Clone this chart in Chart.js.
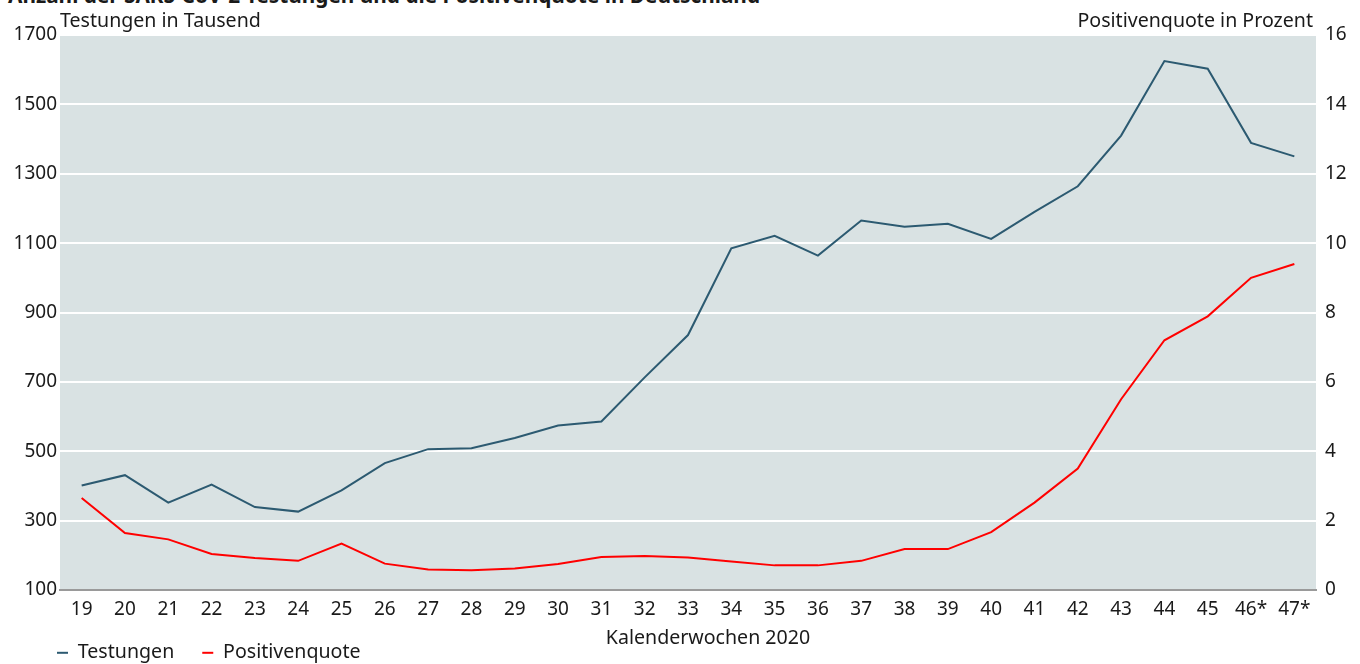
<!DOCTYPE html>
<html>
<head>
<meta charset="utf-8">
<script src="https://cdn.jsdelivr.net/npm/chart.js@4/dist/chart.umd.min.js"></script>
<style>
  html, body { margin: 0; padding: 0; background: #fff; }
  #wrap { position: relative; width: 1360px; height: 664px; overflow: hidden; }
  #title { position: absolute; left: 8px; top: -19px; font: bold 20.8px "Noto Sans", sans-serif; color: #1a1a1a; white-space: nowrap; }
  canvas { position: absolute; left: 0; top: 0; }
</style>
</head>
<body>
<div id="wrap">
  <div id="title">Anzahl der SARS-CoV-2-Testungen und die Positivenquote in Deutschland</div>
  <canvas id="chart" width="1360" height="664"></canvas>
</div>
<script>
// Kalenderwochen
const weeks = ["19", "20", "21", "22", "23", "24", "25", "26", "27", "28", "29", "30", "31", "32", "33",
  "34", "35", "36", "37", "38", "39", "40", "41", "42", "43", "44", "45", "46*", "47*"];

// Testungen in Tausend (linke Achse)
const testungen = [401, 431, 352, 404, 339, 326, 387, 466, 506, 509, 538, 574, 586, 713, 835,
  1085, 1121, 1064, 1165, 1147, 1156, 1112, 1190, 1264, 1410, 1625, 1603, 1389, 1350];

// Positivenquote in Prozent (rechte Achse)
const quote = [2.65, 1.64, 1.46, 1.04, 0.92, 0.84, 1.34, 0.76, 0.59, 0.57, 0.62, 0.75, 0.95, 0.98, 0.94,
  0.82, 0.71, 0.71, 0.84, 1.18, 1.18, 1.67, 2.52, 3.5, 5.5, 7.2, 7.89, 9.0, 9.4];

const leftTicks = [100, 300, 500, 700, 900, 1100, 1300, 1500, 1700];
const rightTicks = [0, 2, 4, 6, 8, 10, 12, 14, 16];

const FONT = "'Noto Sans', sans-serif";
const TXT = "#1a1a1a";

const plotBg = {
  id: "plotBg",
  afterLayout(chart) {
    // legend sits a bit higher and starts under the plot's left edge
    chart.legend.left += 29;
    chart.legend.top -= 5;
  },
  beforeDraw(chart) {
    const { ctx, chartArea: a } = chart;
    ctx.save();
    ctx.fillStyle = "#d9e2e3";
    ctx.fillRect(a.left, a.top, a.right - a.left, a.bottom - a.top);
    ctx.restore();
  },
  afterDraw(chart) {
    const { ctx, chartArea: a } = chart;
    ctx.save();
    ctx.font = "19.6px " + FONT;
    ctx.fillStyle = TXT;
    ctx.textBaseline = "alphabetic";
    ctx.textAlign = "left";
    ctx.fillText("Testungen in Tausend", a.left, 27);
    ctx.textAlign = "right";
    ctx.fillText("Positivenquote in Prozent", a.right - 3, 27);
    ctx.textAlign = "center";
    ctx.textBaseline = "middle";
    ctx.fillText("Kalenderwochen 2020", (a.left + a.right) / 2 + 20, 638);
    ctx.restore();
  }
};

new Chart(document.getElementById("chart"), {
  type: "line",
  data: {
    labels: weeks,
    datasets: [
      {
        label: "Testungen",
        data: testungen,
        yAxisID: "y",
        borderColor: "#2c5a71",
        backgroundColor: "#2c5a71",
        borderWidth: 2,
        pointRadius: 0,
        tension: 0
      },
      {
        label: "Positivenquote",
        data: quote,
        yAxisID: "y1",
        borderColor: "#ff0000",
        backgroundColor: "#ff0000",
        borderWidth: 2,
        pointRadius: 0,
        tension: 0
      }
    ]
  },
  options: {
    responsive: false,
    animation: false,
    layout: { padding: { left: 0, right: 0, top: 35, bottom: 0 } },
    plugins: {
      title: { display: false },
      tooltip: { enabled: false },
      legend: {
        position: "bottom",
        align: "start",
        maxHeight: 44,
        labels: {
          usePointStyle: true,
          pointStyle: "line",
          pointStyleWidth: 11,
          padding: 28,
          color: TXT,
          font: { family: FONT, size: 19.6 }
        }
      }
    },
    scales: {
      x: {
        offset: true,
        afterFit(scale) { scale.height = 30; },
        grid: { display: false, drawTicks: false },
        border: { color: "#9a9a9a", width: 2 },
        ticks: { color: TXT, font: { family: FONT, size: 19, lineHeight: 1 }, padding: 10.5, maxRotation: 0, autoSkip: false }
      },
      y: {
        position: "left",
        min: 100,
        max: 1700,
        afterBuildTicks(scale) { scale.ticks = leftTicks.map(v => ({ value: v })); },
        afterFit(scale) { scale.width = 60; },
        grid: { color: "#ffffff", lineWidth: 2, drawTicks: false },
        border: { display: false },
        ticks: { color: TXT, font: { family: FONT, size: 19 }, padding: 3, callback: v => String(v) }
      },
      y1: {
        position: "right",
        min: 0,
        max: 16,
        afterBuildTicks(scale) { scale.ticks = rightTicks.map(v => ({ value: v })); },
        afterFit(scale) { scale.width = 44; },
        grid: { display: false, drawTicks: false },
        border: { display: false },
        ticks: { color: TXT, font: { family: FONT, size: 19 }, padding: 9, callback: v => String(v) }
      }
    }
  },
  plugins: [plotBg]
});
</script>
</body>
</html>
